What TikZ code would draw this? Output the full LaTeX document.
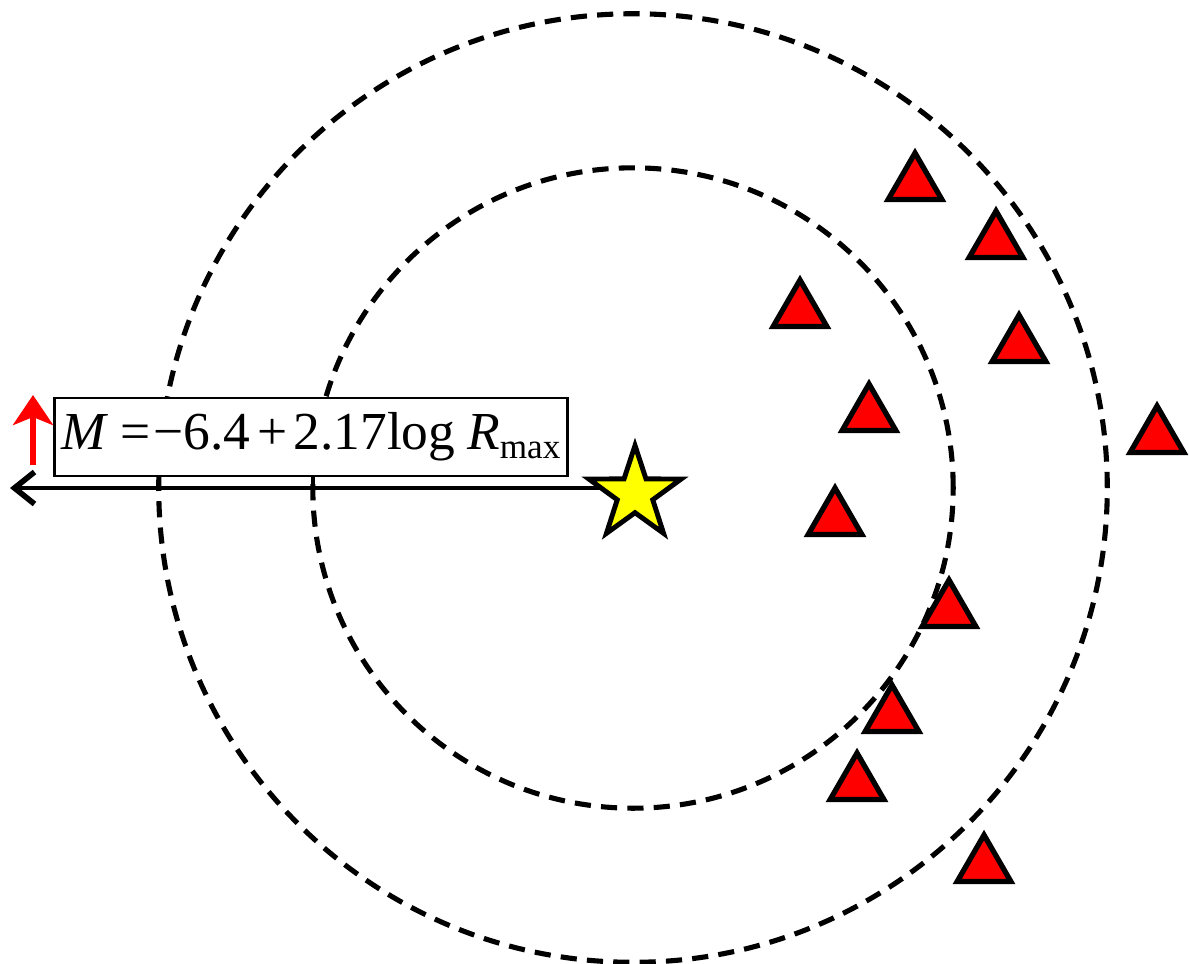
\documentclass[tikz,border=0pt]{standalone}
\usepackage{fontspec}
\setmainfont{Liberation Serif}
\usetikzlibrary{arrows.meta,positioning,shapes.geometric}
\definecolor{stationred}{HTML}{FF0000}
\definecolor{staryellow}{HTML}{FFFF00}
\tikzset{
  station/.style={regular polygon, regular polygon sides=3, draw=black, fill=stationred,
    line width=1.5pt, minimum size=0.62cm, inner sep=0pt},
  ring/.style={dash pattern=on 4.6pt off 2.9pt, line width=1.45pt},
  eqbox/.style={draw, fill=white, line width=0.8pt, minimum width=5.13cm, minimum height=0.78cm,
    inner sep=0pt, font=\fontsize{15.2}{18}\selectfont},
}

\begin{document}
\begin{tikzpicture}[x=0.01cm,y=-0.01cm]
  \useasboundingbox (0,0) rectangle (1189,963);

  % Rings round the epicentre
  \draw[ring] (633,488) circle[radius=3.2cm];
  \draw[ring] (633,488) circle[radius=4.74cm];

  % Distance axis
  \coordinate (epipos) at (635,494);
  \coordinate (farwest) at (10,488);
  \draw[line width=1.3pt,-{Straight Barb[length=0.2cm,width=0.32cm,line width=1.6pt]}] (epipos |- farwest) -- (farwest);

  % Formula box and ticks
  \node[eqbox] (formula) at (311,437)
    {\textit{M}\hspace{0.22em}=\hspace{0.06em}−6.4\hspace{0.12em}+\hspace{0.12em}2.17log\hspace{0.22em}\textit{R}\raisebox{-0.35ex}{\fontsize{10}{10}\selectfont max}};
  \draw[line width=1.4pt] (formula.south -| 159,0) -- (159,488);
  \draw[line width=1.4pt] (formula.south -| 313,0) -- (313,488);

  % Magnitude goes up
  \coordinate (upfoot) at (33,465);
  \coordinate (uptip) at (33,395);
  \draw[stationred,line width=1.8pt,-{Stealth[length=0.3cm,width=0.4cm,inset=0.08cm]}] (upfoot) -- (uptip);

  % Epicentre
  \node[star, star points=5, star point ratio=2.6, draw, fill=staryellow, line width=1.4pt,
    minimum size=0.97cm, inner sep=0pt] (epi) at (epipos) {};

  % Stations
  \foreach \x/\y [count=\i] in {915/184, 996/242, 800/311, 1019/346, 869/415, 1157/437,
      835/519, 949/611, 892/716, 857/784, 984/866}
    \node[station] (st\i) at (\x,\y) {};
\end{tikzpicture}
\end{document}
